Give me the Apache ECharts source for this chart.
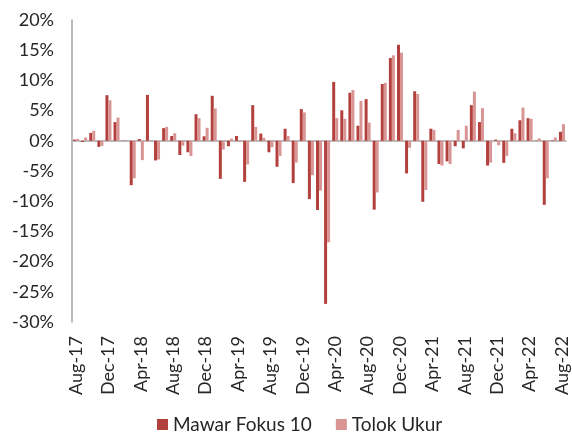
<!DOCTYPE html>
<html>
<head>
<meta charset="utf-8">
<script src="https://cdn.jsdelivr.net/npm/echarts@6/dist/echarts.min.js"></script>
<style>
    html, body {margin: 0; padding: 0; background: #FFFFFF;}
    #chart {width: 572px; height: 434px;}
</style>
</head>
<body>
<div id="chart"></div>
<script>
//  月份
const months = [
    'Aug-17', 'Sep-17', 'Oct-17', 'Nov-17', 'Dec-17', 'Jan-18', 'Feb-18', 'Mar-18',
    'Apr-18', 'May-18', 'Jun-18', 'Jul-18', 'Aug-18', 'Sep-18', 'Oct-18', 'Nov-18',
    'Dec-18', 'Jan-19', 'Feb-19', 'Mar-19', 'Apr-19', 'May-19', 'Jun-19', 'Jul-19',
    'Aug-19', 'Sep-19', 'Oct-19', 'Nov-19', 'Dec-19', 'Jan-20', 'Feb-20', 'Mar-20',
    'Apr-20', 'May-20', 'Jun-20', 'Jul-20', 'Aug-20', 'Sep-20', 'Oct-20', 'Nov-20',
    'Dec-20', 'Jan-21', 'Feb-21', 'Mar-21', 'Apr-21', 'May-21', 'Jun-21', 'Jul-21',
    'Aug-21', 'Sep-21', 'Oct-21', 'Nov-21', 'Dec-21', 'Jan-22', 'Feb-22', 'Mar-22',
    'Apr-22', 'May-22', 'Jun-22', 'Jul-22', 'Aug-22'
];
//  Mawar Fokus 10 (%)
const fokus = [
    0.2, -0.2, 1.3, -1.0, 7.55, 3.1, 0.05, -7.35, 0.3, 7.6, -3.25, 2.1, 0.8, -2.35, -1.9, 4.4,
    0.75, 7.45, -6.3, -0.9, 0.8, -6.8, 5.9, 1.2, -1.9, -4.3, 2.0, -7.0, 5.25, -9.65, -11.45, -27.0,
    9.75, 5.05, 7.95, 2.5, 6.9, -11.4, 9.4, 13.7, 15.9, -5.4, 8.2, -10.1, 2.0, -3.85, -3.4, -0.9,
    -1.25, 5.9, 3.1, -4.1, 0.2, -3.65, 2.0, 3.4, 3.75, 0.05, -10.6, 0.1, 1.5
];
//  Tolok Ukur (%)
const tolok = [
    0.3, 0.55, 1.65, -0.85, 6.7, 3.85, -0.05, -6.2, -3.2, 0.1, -3.1, 2.3, 1.25, -0.8, -2.5, 3.75,
    2.15, 5.35, -1.45, 0.35, -0.2, -3.9, 2.3, 0.5, -1.05, -2.5, 0.8, -3.6, 4.7, -5.7, -8.25, -16.8,
    3.75, 3.65, 8.4, 6.6, 3.0, -8.55, 9.6, 14.15, 14.6, -1.15, 7.75, -8.15, 1.8, -4.1, -3.85, 1.8,
    2.5, 8.15, 5.4, -3.6, -0.75, -2.5, 1.25, 5.5, 3.65, 0.4, -6.2, 0.55, 2.75
];

const font = 'Lato, "Noto Sans", sans-serif';
const myChart = echarts.init(document.getElementById('chart'));
myChart.setOption({
    animation: false,
    textStyle: {fontFamily: font},
    grid: {
        left: 72,
        right: 6,
        top: 20,
        bottom: 112,
    },
    legend: {
        data: ['Mawar Fokus 10', 'Tolok Ukur'],
        left: 152,
        top: 410,
        itemWidth: 11,
        itemHeight: 11,
        itemGap: 24,
        icon: 'rect',
        selectedMode: false,
        textStyle: {color: '#262626', fontSize: 19, fontFamily: font},
    },
    xAxis: [
        //  刻度文字（底部）
        {
            type: 'category',
            data: months,
            position: 'bottom',
            axisLine: {show: false, onZero: false},
            axisTick: {show: false},
            axisLabel: {
                interval: 3,
                rotate: 90,
                color: '#262626',
                fontSize: 18,
                margin: 14,
                fontFamily: font,
            },
        },
        //  零线
        {
            type: 'category',
            data: months,
            position: 'bottom',
            axisLine: {onZero: true, lineStyle: {color: '#A6A6A6', width: 1.5}},
            axisTick: {show: false},
            axisLabel: {show: false},
        }
    ],
    yAxis: {
        type: 'value',
        min: -30,
        max: 20,
        interval: 5,
        axisLine: {show: true, lineStyle: {color: '#A6A6A6', width: 1.5}},
        axisTick: {show: false},
        splitLine: {show: false},
        axisLabel: {
            color: '#262626',
            fontSize: 18,
            margin: 18,
            fontFamily: font,
            formatter: '{value}%',
        },
    },
    series: [
        {
            name: 'Mawar Fokus 10',
            type: 'bar',
            data: fokus,
            barWidth: 3,
            barGap: '0%',
            itemStyle: {color: '#B2403D'},
        },
        {
            name: 'Tolok Ukur',
            type: 'bar',
            data: tolok,
            barWidth: 3,
            itemStyle: {color: '#D99593'},
        }
    ],
});
</script>
</body>
</html>
